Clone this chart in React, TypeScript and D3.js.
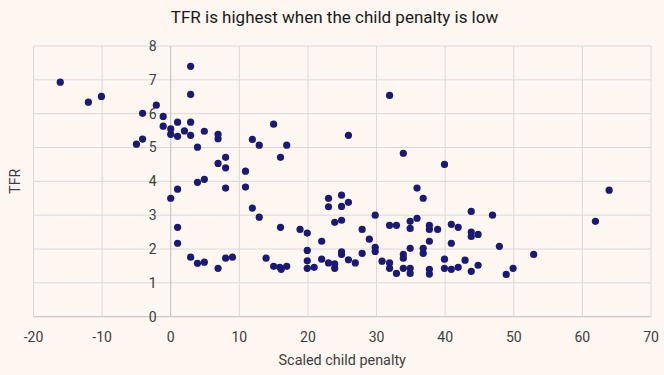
import React from "react";
import * as d3 from "d3";

const penalty: number[] = [
  -16.1, -12.0, -10.1, -2.1, -4.1, -1.1, -1.1, 0.0, 0.0, 1.0, 1.0, 2.0, 2.9, 2.9, 2.9, 2.9, 3.9, 4.9, 6.9, 6.9,
  -5.0, -4.1, 8.0, 6.9, 8.0, 4.9, 3.9, 0.0, 1.0, 8.0, 1.0, 1.0, 2.9, 3.9, 4.9, 6.9, 8.0, 9.0,
  31.9, 15.0, 11.9, 12.9, 16.9, 25.9, 16.0, 10.9, 10.9, 33.9, 35.9, 36.8, 11.9, 23.0, 24.9, 25.9, 23.0, 24.9,
  12.9, 16.0, 18.85, 19.9, 22.0, 19.9, 13.9, 15.0, 15.9, 16.1, 16.9, 19.9, 19.9, 20.9, 22.0, 23.0, 23.9, 23.9,
  24.9, 24.9, 25.9, 26.9, 27.9, 28.95, 27.9, 29.8, 29.8, 29.8, 23.9, 24.9, 31.9, 32.9, 34.9, 34.9, 35.9,
  37.7, 37.7, 37.7, 30.8, 31.9, 31.9, 32.9, 33.9, 33.9, 33.9, 34.9, 34.9, 34.9, 36.8, 36.8, 37.7, 37.7,
  39.9, 43.8, 46.9, 63.9, 61.9, 38.9, 40.9, 41.9, 43.8, 43.8, 44.8, 40.9, 47.9, 39.9, 42.9, 52.9, 39.9,
  40.9, 41.9, 44.8, 43.8, 49.9, 48.9,
];

const tfr: number[] = [
  6.93, 6.34, 6.51, 6.25, 6.01, 5.92, 5.63, 5.55, 5.39, 5.75, 5.33, 5.49, 7.4, 6.57, 5.75, 5.36, 5.01, 5.48, 5.39, 5.26,
  5.1, 5.25, 4.71, 4.53, 4.4, 4.06, 3.97, 3.5, 3.77, 3.8, 2.64, 2.17, 1.76, 1.58, 1.61, 1.43, 1.73, 1.76,
  6.54, 5.69, 5.24, 5.07, 5.07, 5.36, 4.71, 4.3, 3.83, 4.83, 3.8, 3.5, 3.21, 3.5, 3.59, 3.38, 3.25, 3.26,
  2.94, 2.64, 2.58, 2.47, 2.23, 1.96, 1.73, 1.49, 1.46, 1.4, 1.49, 1.65, 1.43, 1.46, 1.7, 1.59, 1.56, 1.43,
  1.92, 1.84, 1.68, 1.59, 1.87, 2.29, 2.58, 3.0, 2.05, 1.93, 2.79, 2.85, 2.7, 2.7, 2.82, 2.61, 2.91,
  2.7, 2.58, 2.23, 1.64, 1.59, 1.43, 1.28, 1.84, 1.73, 1.43, 1.43, 1.28, 2.02, 2.02, 1.87, 1.4, 1.26,
  4.5, 3.11, 3.0, 3.74, 2.82, 2.58, 2.73, 2.64, 2.5, 2.37, 2.43, 2.17, 2.08, 1.7, 1.67, 1.84, 1.43,
  1.4, 1.46, 1.52, 1.34, 1.43, 1.25,
];

const xTicks: number[] = [-20, -10, 0, 10, 20, 30, 40, 50, 60, 70];
const yTicks: number[] = [0, 1, 2, 3, 4, 5, 6, 7, 8];

const title = "TFR is highest when the child penalty is low";
const xTitle = "Scaled child penalty";
const yTitle = "TFR";

export default function App() {
  const W = 664;
  const H = 375;
  const left = 33.5;
  const right = 651;
  const top = 46;
  const bottom = 316.7;
  const x = d3.scaleLinear().domain([-20, 70]).range([left, right]);
  const y = d3.scaleLinear().domain([0, 8]).range([bottom, top]);
  const font = "Roboto, sans-serif";
  const textColor = "#404040";

  return (
    <svg
      width={W}
      height={H}
      style={{ position: "absolute", left: 0, top: 0, display: "block" }}
    >
      <rect x={0} y={0} width={W} height={H} fill="#fdf6f1" />
      <text
        x={334.5}
        y={17}
        dy="0.35em"
        textAnchor="middle"
        fontFamily={font}
        fontSize={17}
        fill="#1a1a1a"
      >
        {title}
      </text>
      {yTicks.map((t) => (
        <line
          key={"gy" + t}
          x1={left}
          x2={right}
          y1={y(t)}
          y2={y(t)}
          stroke={t === 0 ? "#bfbfbf" : "#d9d9d9"}
          strokeWidth={1}
        />
      ))}
      {xTicks.map((t) => (
        <line
          key={"gx" + t}
          x1={x(t)}
          x2={x(t)}
          y1={top}
          y2={bottom}
          stroke={t === 0 ? "#bfbfbf" : "#d9d9d9"}
          strokeWidth={1}
        />
      ))}
      {yTicks.map((t) => (
        <text
          key={"ly" + t}
          x={x(0) - 14}
          y={y(t)}
          dy="0.35em"
          textAnchor="end"
          fontFamily={font}
          fontSize={14}
          fill={textColor}
        >
          {t}
        </text>
      ))}
      {xTicks.map((t) => (
        <text
          key={"lx" + t}
          x={x(t)}
          y={bottom + 20}
          dy="0.35em"
          textAnchor="middle"
          fontFamily={font}
          fontSize={14}
          fill={textColor}
        >
          {t}
        </text>
      ))}
      <text
        x={(left + right) / 2}
        y={360}
        dy="0.35em"
        textAnchor="middle"
        fontFamily={font}
        fontSize={14.4}
        fill={textColor}
      >
        {xTitle}
      </text>
      <text
        transform={`translate(15, ${(top + bottom) / 2}) rotate(-90)`}
        textAnchor="middle"
        dy="0.35em"
        fontFamily={font}
        fontSize={14}
        fill={textColor}
      >
        {yTitle}
      </text>
      {penalty.map((v, i) => (
        <circle key={"p" + i} cx={x(v)} cy={y(tfr[i])} r={3.6} fill="#1b1a72" />
      ))}
    </svg>
  );
}
